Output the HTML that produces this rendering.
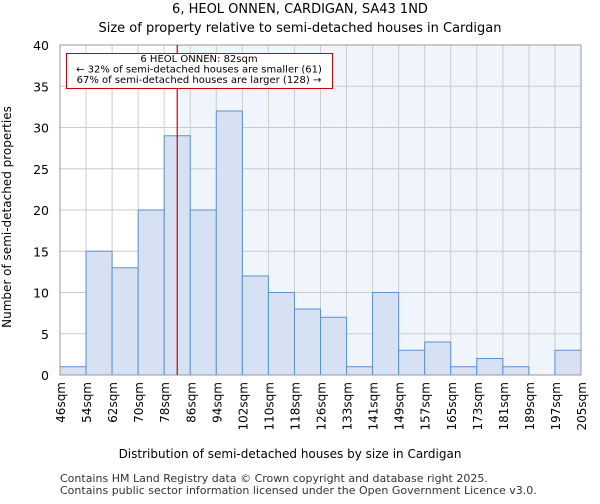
<!DOCTYPE html>
<html><head><style>body{margin:0;background:#fff;font-family:"DejaVu Sans","Liberation Sans",sans-serif}</style></head>
<body>
<svg id="c" width="600" height="500" xmlns="http://www.w3.org/2000/svg" font-family="DejaVu Sans, Liberation Sans, sans-serif">
<text x="300" y="13" text-anchor="middle" font-size="13">6, HEOL ONNEN, CARDIGAN, SA43 1ND</text>
<text x="300" y="32" text-anchor="middle" font-size="13">Size of property relative to semi-detached houses in Cardigan</text>
<g id="plot"></g>
<text x="290" y="458" text-anchor="middle" font-size="12">Distribution of semi-detached houses by size in Cardigan</text>
<text transform="translate(11,217) rotate(-90)" text-anchor="middle" font-size="12">Number of semi-detached properties</text>
<text x="60" y="482" font-size="11" fill="#333">Contains HM Land Registry data © Crown copyright and database right 2025.</text>
<text x="60" y="494" font-size="11" fill="#333">Contains public sector information licensed under the Open Government Licence v3.0.</text>
</svg>
<script>
const categories=["46sqm","54sqm","62sqm","70sqm","78sqm","86sqm","94sqm","102sqm","110sqm","118sqm","126sqm","133sqm","141sqm","149sqm","157sqm","165sqm","173sqm","181sqm","189sqm","197sqm","205sqm"];
const counts=[1,15,13,20,29,20,32,12,10,8,7,1,10,3,4,1,2,1,0,3];
const yTicks=[0,5,10,15,20,25,30,35,40];
const markerValue=82;
const binStart=46, binWidth=8;
const L=60,R=581,T=45,B=375,yMax=40;
const n=counts.length;
const bw=(R-L)/n;
const x=i=>L+i*bw;
const xv=v=>L+(v-binStart)/binWidth*bw;
const y=v=>B-(v/yMax)*(B-T);
const NS="http://www.w3.org/2000/svg";
const g=document.getElementById('plot');
function mk(t,a){const e=document.createElementNS(NS,t);for(const k in a)e.setAttribute(k,a[k]);g.appendChild(e);return e;}
const mx=xv(markerValue);
let bg=mk('rect',{x:mx,y:T,width:R-mx,height:B-T,fill:'#f0f4fc'});


for(let i=0;i<=n;i++){let l=mk('line',{x1:x(i),x2:x(i),y1:T,y2:B,stroke:'#ccc','stroke-width':1});

}
yTicks.forEach(v=>{let l=mk('line',{x1:L,x2:R,y1:y(v),y2:y(v),stroke:'#ccc','stroke-width':1});


let t=mk('text',{x:L-11,y:y(v)+5,'text-anchor':'end','font-size':12.5});t.textContent=v;

});
counts.forEach((c,i)=>{if(c<=0)return;let r=mk('rect',{x:x(i),y:y(c),width:bw,height:B-y(c),fill:'#d6e2f3',stroke:'#5b8fd6','stroke-width':1});

});
categories.forEach((c,i)=>{let t=mk('text',{transform:`translate(${x(i)+5},382) rotate(-90)`,'text-anchor':'end','font-size':12});t.textContent=c;

});
let ax=mk('rect',{x:L,y:T,width:R-L,height:B-T,fill:'none',stroke:'#999','stroke-width':1});


let ml=mk('line',{x1:mx,x2:mx,y1:T,y2:B,stroke:'#cc0000','stroke-width':1.2});


let box=mk('rect',{x:66.5,y:53.5,width:266,height:35,fill:'#fff',stroke:'#cc0000','stroke-width':1});


["6 HEOL ONNEN: 82sqm","← 32% of semi-detached houses are smaller (61)","67% of semi-detached houses are larger (128) →"].forEach((s,i)=>{
let t=mk('text',{x:199,y:62+i*10.5,'text-anchor':'middle','font-size':10});t.textContent=s;

});
</script>
</body></html>
